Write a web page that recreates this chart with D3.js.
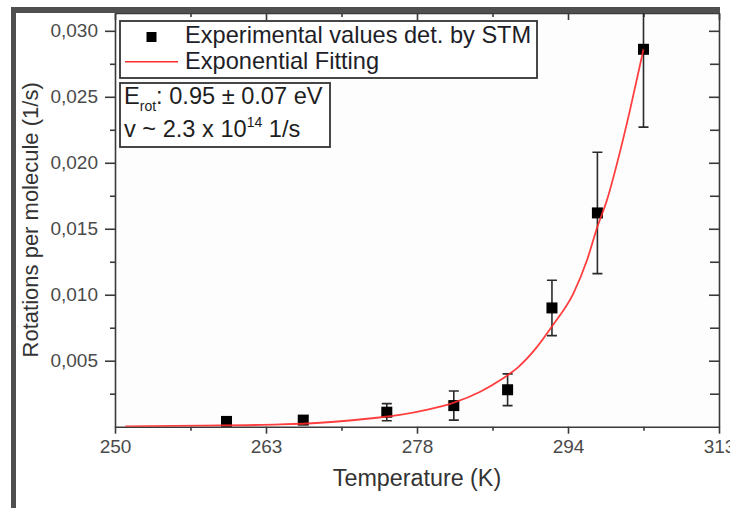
<!DOCTYPE html>
<html>
<head>
<meta charset="utf-8">
<script src="https://cdn.jsdelivr.net/npm/d3@7"></script>
<style>
  html, body { margin: 0; padding: 0; background: #ffffff; }
  svg { display: block; font-family: Arial, "Liberation Sans", sans-serif; }
</style>
</head>
<body>
<svg id="chart" width="730" height="508"></svg>
<script>
// ---- data ----
const xTickValues = [250, 263, 278, 294, 313];
const yTickValues = [0.005, 0.010, 0.015, 0.020, 0.025, 0.030];
const yMinorValues = [0.0025, 0.0075, 0.0125, 0.0175, 0.0225, 0.0275];

const temps  = [259.6, 266.7, 275.0, 281.9, 287.6, 292.3, 297.7, 303.5];
const rates  = [0.0004, 0.0005, 0.0011, 0.0016, 0.0028, 0.0090, 0.0162, 0.0286];
const errors = [0.0002, 0.0003, 0.00065, 0.0011, 0.0012, 0.0021, 0.0046, 0.0059];

const fitTemps = [250.9, 257.3, 264.4, 268.4, 271.3, 273.8, 276.3, 279.0, 281.9, 284.7, 286.8, 288.7, 290.7, 292.4, 294.7, 296.4, 297.7, 298.9, 300.5, 301.8, 303.5];
const fitRates = [0.00003, 0.00008, 0.00017, 0.0003, 0.00047, 0.00066, 0.00089, 0.00127, 0.00182, 0.00265, 0.00352, 0.0045, 0.00603, 0.0077, 0.01013, 0.01263, 0.01515, 0.01717, 0.02073, 0.02399, 0.0286];

const legendLabels = ["Experimental values det. by STM", "Exponential Fitting"];

// ---- layout ----
const svg = d3.select("#chart");
const L = 115, R = 719, T = 13, B = 426.7;

const x = d3.scaleLinear()
  .domain(xTickValues)
  .range(xTickValues.map((d, i) => L + i * (R - L) / (xTickValues.length - 1)));
const y = d3.scaleLinear().domain([0, 0.03135]).range([B, T]);

const xMinor = d3.pairs(xTickValues).map(([a, b]) => (a + b) / 2);
const fmtY = v => d3.format(".3f")(v).replace(".", ",");

const axisColor = "#3a3a3a";
const tickText = "#4a4a4a";

// plot background
svg.append("rect").attr("x", L).attr("y", T).attr("width", R - L).attr("height", B - T).attr("fill", "#fdfdfd");

// clip
svg.append("defs").append("clipPath").attr("id", "plotClip")
  .append("rect").attr("x", L).attr("y", T).attr("width", R - L).attr("height", B - T);

function styleAxis(g) {
  g.selectAll(".domain").attr("stroke", axisColor).attr("stroke-width", 1.6);
  g.selectAll(".tick line").attr("stroke", axisColor).attr("stroke-width", 1.6);
  g.selectAll(".tick text").attr("fill", tickText).style("font-size", "19px")
    .style("font-family", 'Arial, "Liberation Sans", sans-serif');
}

// bottom axis (major)
const gx = svg.append("g").attr("transform", `translate(0,${B})`)
  .call(d3.axisBottom(x).tickValues(xTickValues).tickSize(7).tickSizeOuter(0).tickPadding(6).tickFormat(d3.format("d")));
styleAxis(gx);
// bottom minor
svg.append("g").attr("transform", `translate(0,${B})`)
  .call(d3.axisBottom(x).tickValues(xMinor).tickSize(4).tickSizeOuter(0).tickFormat(""))
  .call(g => { g.select(".domain").remove(); styleAxis(g); });

// top axis (inward ticks)
svg.append("g").attr("transform", `translate(0,${T})`)
  .call(d3.axisTop(x).tickValues(xTickValues).tickSize(-7).tickSizeOuter(0).tickFormat(""))
  .call(styleAxis);
svg.append("g").attr("transform", `translate(0,${T})`)
  .call(d3.axisTop(x).tickValues(xMinor).tickSize(-4).tickSizeOuter(0).tickFormat(""))
  .call(g => { g.select(".domain").remove(); styleAxis(g); });

// left axis
const gy = svg.append("g").attr("transform", `translate(${L},0)`)
  .call(d3.axisLeft(y).tickValues(yTickValues).tickSize(10).tickSizeOuter(0).tickPadding(7).tickFormat(fmtY));
styleAxis(gy);
svg.append("g").attr("transform", `translate(${L},0)`)
  .call(d3.axisLeft(y).tickValues(yMinorValues).tickSize(5).tickSizeOuter(0).tickFormat(""))
  .call(g => { g.select(".domain").remove(); styleAxis(g); });

// right axis (inward ticks)
svg.append("g").attr("transform", `translate(${R},0)`)
  .call(d3.axisRight(y).tickValues(yTickValues).tickSize(-10).tickSizeOuter(0).tickFormat(""))
  .call(styleAxis);
svg.append("g").attr("transform", `translate(${R},0)`)
  .call(d3.axisRight(y).tickValues(yMinorValues).tickSize(-9).tickSizeOuter(0).tickFormat(""))
  .call(g => { g.select(".domain").remove(); styleAxis(g); });

// axis titles
svg.append("text").attr("x", (L + R) / 2).attr("y", 486).attr("text-anchor", "middle")
  .attr("fill", "#333").style("font-size", "23.3px").text("Temperature (K)");
svg.append("text").attr("transform", `translate(38,${(T + B) / 2}) rotate(-90)`).attr("text-anchor", "middle")
  .attr("fill", "#333").style("font-size", "22px").text("Rotations per molecule (1/s)");

// data group
const plot = svg.append("g").attr("clip-path", "url(#plotClip)");
const pts = temps.map((t, i) => ({ t, v: rates[i], e: errors[i] }));

// error bars
const eb = plot.append("g").attr("stroke", "#2a2a2a").attr("stroke-width", 1.6);
eb.selectAll("line.v").data(pts).join("line").attr("class", "v")
  .attr("x1", d => x(d.t)).attr("x2", d => x(d.t))
  .attr("y1", d => y(d.v + d.e)).attr("y2", d => y(d.v - d.e));
eb.selectAll("line.t").data(pts).join("line").attr("class", "t")
  .attr("x1", d => x(d.t) - 5).attr("x2", d => x(d.t) + 5)
  .attr("y1", d => y(d.v + d.e)).attr("y2", d => y(d.v + d.e));
eb.selectAll("line.b").data(pts).join("line").attr("class", "b")
  .attr("x1", d => x(d.t) - 5).attr("x2", d => x(d.t) + 5)
  .attr("y1", d => y(d.v - d.e)).attr("y2", d => y(d.v - d.e));

// squares
plot.selectAll("rect.pt").data(pts).join("rect").attr("class", "pt")
  .attr("x", d => x(d.t) - 5.5).attr("y", d => y(d.v) - 5.5)
  .attr("width", 11).attr("height", 11).attr("fill", "#000");

// fit curve
const fit = fitTemps.map((t, i) => [x(t), y(fitRates[i])]);
plot.append("path").attr("d", d3.line().curve(d3.curveMonotoneX)(fit))
  .attr("fill", "none").attr("stroke", "#ff2a2a").attr("stroke-width", 1.8).attr("stroke-opacity", 0.9);

// legend box
const lg = svg.append("g");
lg.append("rect").attr("x", 120).attr("y", 21).attr("width", 417).attr("height", 57)
  .attr("fill", "#fff").attr("stroke", "#333").attr("stroke-width", 1.8);
lg.append("rect").attr("x", 146.5).attr("y", 32).attr("width", 10).attr("height", 10).attr("fill", "#000");
lg.append("line").attr("x1", 125).attr("x2", 178).attr("y1", 61.7).attr("y2", 61.7)
  .attr("stroke", "#ff2a2a").attr("stroke-width", 1.6);
lg.selectAll("text.lab").data(legendLabels).join("text").attr("class", "lab")
  .attr("x", 185).attr("y", (d, i) => 42.5 + i * 26)
  .attr("fill", "#1e1e28").style("font-size", "23.6px").text(d => d);

// annotation box
const ab = svg.append("g");
ab.append("rect").attr("x", 120).attr("y", 83).attr("width", 210).attr("height", 64)
  .attr("fill", "#fff").attr("stroke", "#333").attr("stroke-width", 1.8);
const t1 = ab.append("text").attr("x", 124).attr("y", 104).attr("fill", "#1e1e1e").style("font-size", "23.6px");
t1.append("tspan").text("E");
t1.append("tspan").attr("dy", 7).style("font-size", "14px").text("rot");
t1.append("tspan").attr("dy", -7).text(": 0.95 \u00b1 0.07 eV");
const t2 = ab.append("text").attr("x", 124).attr("y", 137).attr("fill", "#1e1e1e").style("font-size", "23.6px");
t2.append("tspan").text("v ~ 2.3 x 10");
t2.append("tspan").attr("dy", -10).style("font-size", "14px").text("14");
t2.append("tspan").attr("dy", 10).text(" 1/s");

// outer dark frame (screenshot border)
svg.append("rect").attr("x", 11).attr("y", 7).attr("width", 709).attr("height", 6).attr("fill", "#4f4f4f");
svg.append("rect").attr("x", 11).attr("y", 7).attr("width", 5).attr("height", 501).attr("fill", "#4f4f4f");
</script>
</body>
</html>
